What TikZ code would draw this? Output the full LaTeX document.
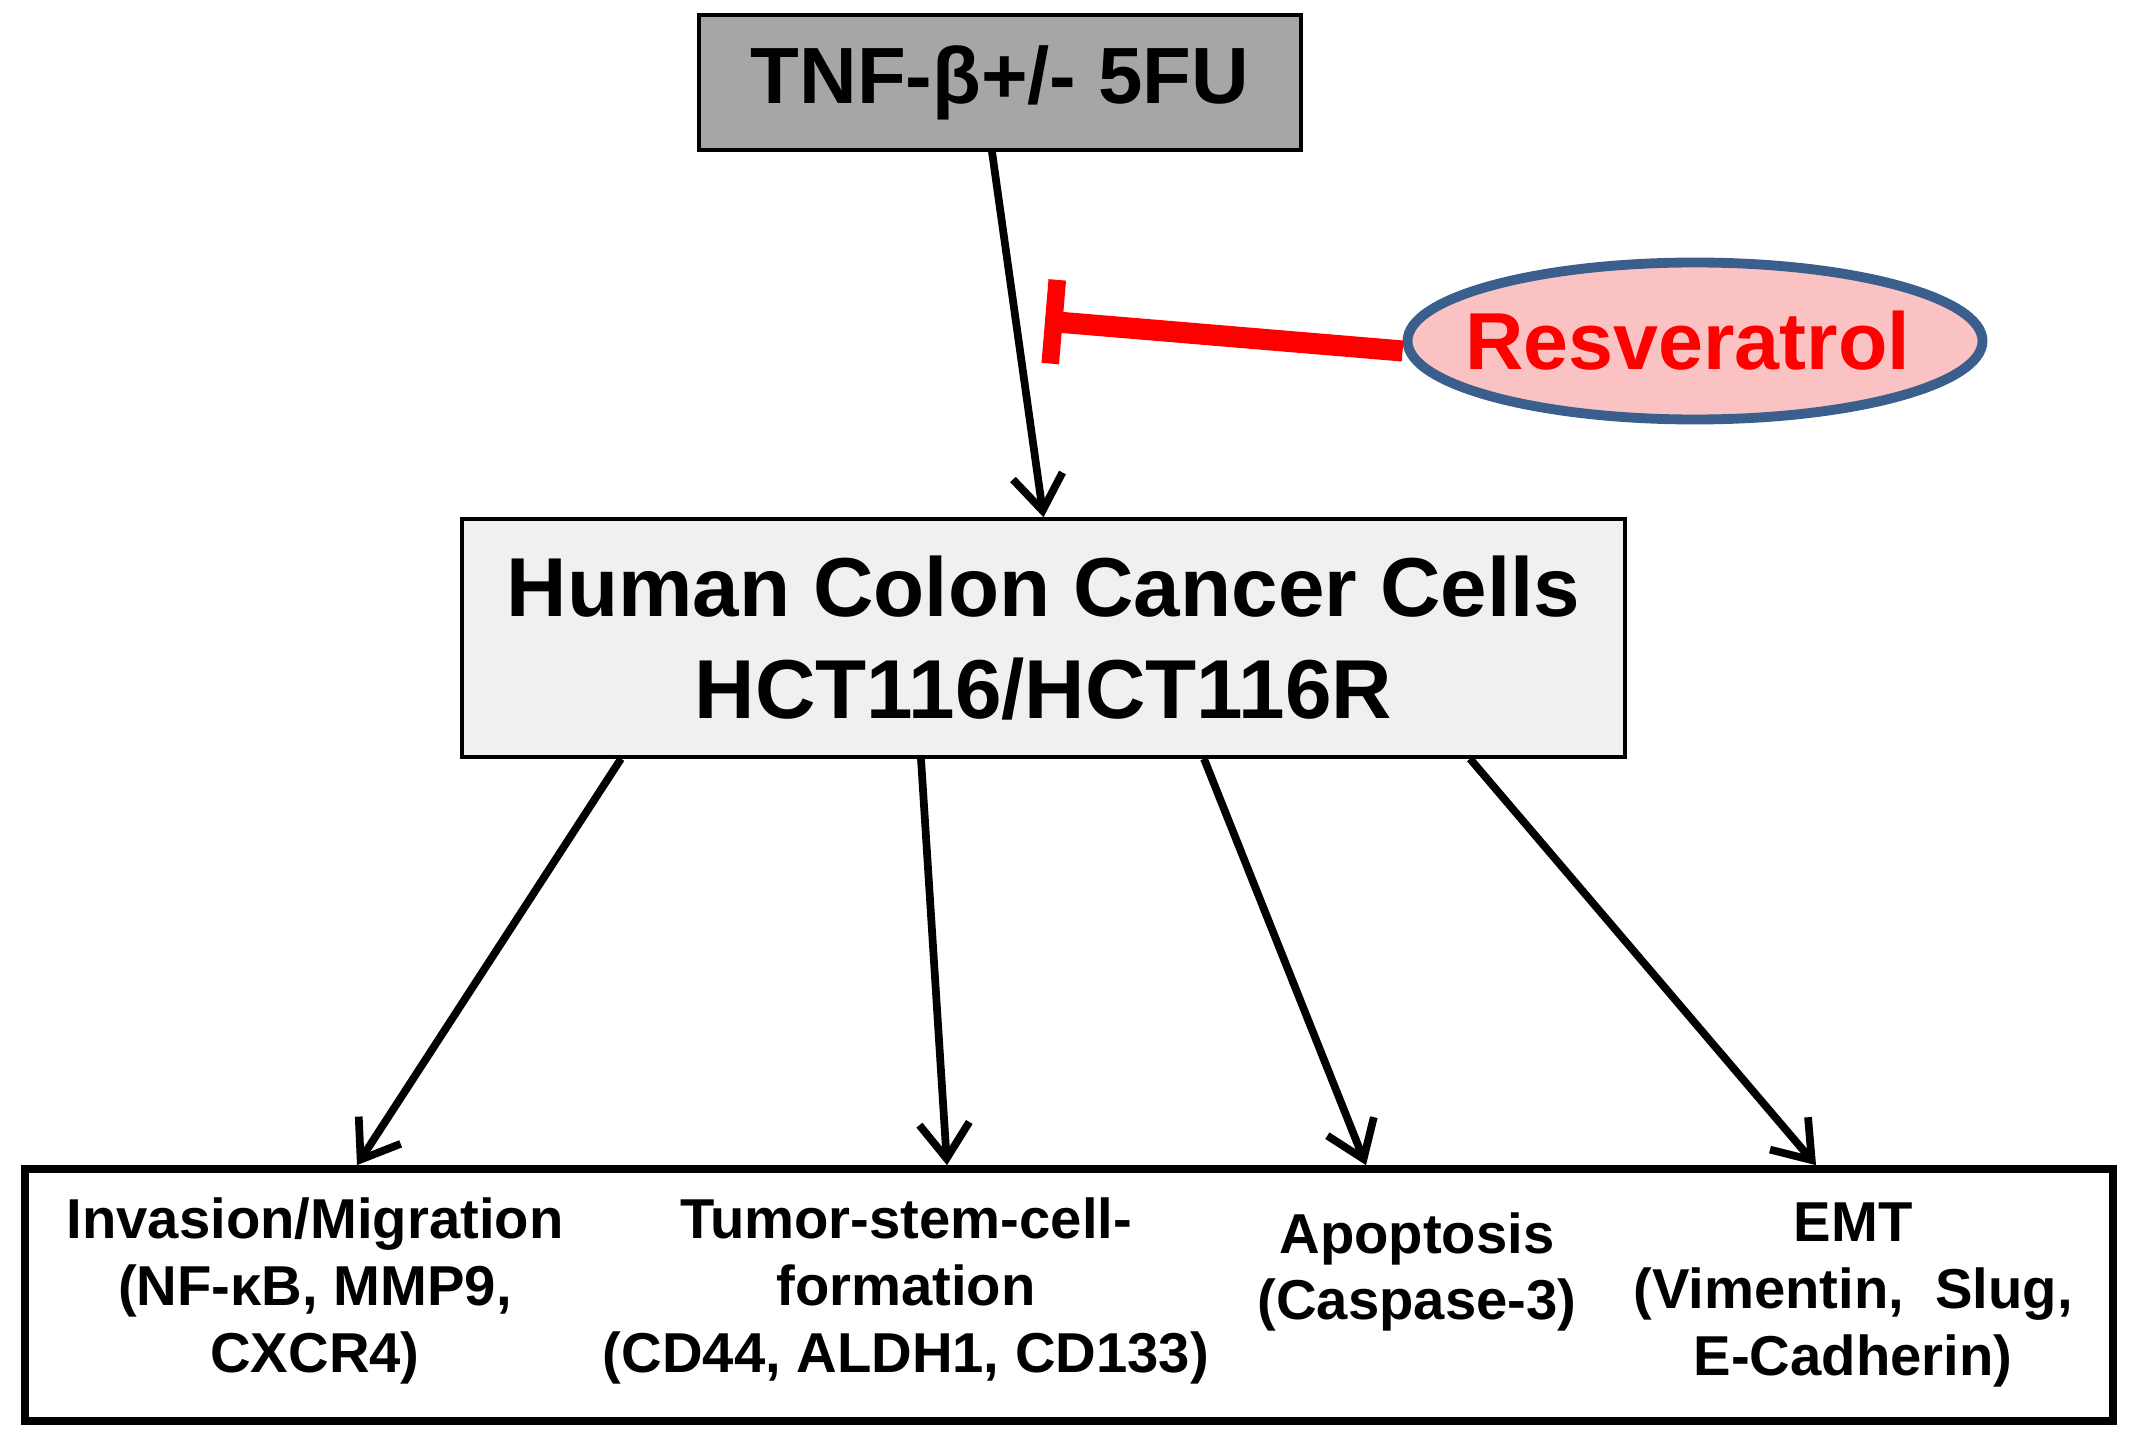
\documentclass[tikz,border=0pt]{standalone}
\usepackage{fontspec}
\setmainfont{Liberation Sans}
\usetikzlibrary{arrows.meta,shapes.geometric}
\definecolor{boxgray}{RGB}{166,166,166}
\definecolor{cellgray}{RGB}{240,240,240}
\definecolor{respink}{RGB}{250,194,194}
\definecolor{resblue}{RGB}{58,95,140}
\begin{document}
\begin{tikzpicture}[
    treatbox/.style={rectangle, draw, line width=1pt, fill=boxgray, minimum width=6.02cm, minimum height=1.35cm, align=center, font=\fontsize{22.7}{27}\selectfont\bfseries},
    cellbox/.style={rectangle, draw, line width=1pt, fill=cellgray, minimum width=11.63cm, minimum height=2.38cm, align=center, font=\fontsize{23.8}{29}\selectfont\bfseries},
    effect/.style={align=center, font=\fontsize{16}{19}\selectfont\bfseries},
    arrow/.style={-{Straight Barb[length=3.5mm, width=5mm, line width=2.2pt]}, line width=2.2pt}
]
    \useasboundingbox (0,0) rectangle (21.36,-14.47);

    % Treatment
    \node[treatbox] (tnf) at (10.00,-0.825) {TNF-β+/- 5FU};

    % Resveratrol
    \node[ellipse, draw=resblue, line width=2.8pt, fill=respink, inner sep=0pt, minimum width=5.75cm, minimum height=1.57cm, text=red, font=\fontsize{23}{27}\selectfont\bfseries] (res) at (16.95,-3.41) {\makebox[0pt]{Resveratrol\hspace{0.15cm}}};
    \coordinate (blk) at (10.45,-3.21);

    % Cells
    \node[cellbox] (hct) at (10.435,-6.38) {Human Colon Cancer Cells\\HCT116/HCT116R};
    \draw[arrow] ([xshift=-0.8mm]tnf.south) -- (hct.north);
    \draw[red, line width=6pt, -{Bar[width=8.4mm, line width=5pt]}] ([yshift=-1mm]res.west) -- (blk);

    % Effects
    \node[rectangle, draw, line width=2.2pt, minimum width=20.88cm, minimum height=2.52cm] (out) at (10.69,-12.95) {};
    \node[effect] (inv) at (3.15,-12.91) {Invasion/Migration\\(NF-κB, MMP9,\\CXCR4)};
    \node[effect] (tsc) at (9.06,-12.91) {Tumor-stem-cell-\\formation\\(CD44, ALDH1, CD133)};
    \node[effect] (apo) at (14.17,-12.72) {Apoptosis\\(Caspase-3)};
    \node[effect] (emt) at (18.53,-12.95) {EMT\\(Vimentin,~ Slug,\\E-Cadherin)};

    \draw[arrow] ([xshift=-42.25mm]hct.south) -- ([xshift=-71.2mm]out.north);
    \draw[arrow] ([xshift=-12.25mm]hct.south) -- ([xshift=-12.2mm]out.north);
    \draw[arrow] ([xshift=16.05mm]hct.south) -- ([xshift=29.7mm]out.north);
    \draw[arrow] ([xshift=42.65mm]hct.south) -- ([xshift=74.7mm]out.north);
\end{tikzpicture}
\end{document}
